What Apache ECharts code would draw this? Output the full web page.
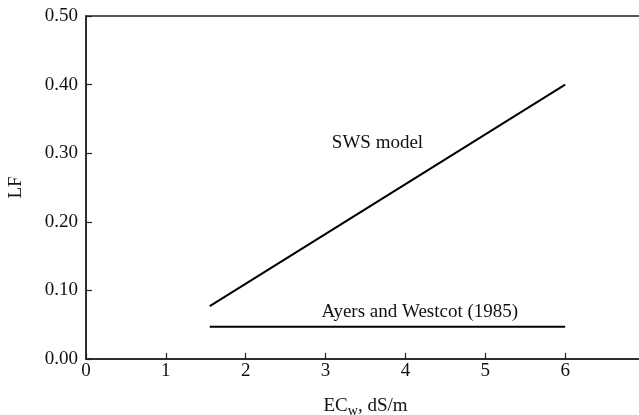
<!DOCTYPE html>
<html><head><meta charset="utf-8">
<script src="https://cdn.jsdelivr.net/npm/echarts@6/dist/echarts.min.js"></script>
<style>html,body{margin:0;padding:0;background:#fff}#c{width:639px;height:415px}</style>
</head><body><div id="c"></div>
<script>
const swsX = [1.55, 6];
const swsY = [0.077, 0.40];
const ayersX = [1.55, 6];
const ayersY = [0.047, 0.047];
const annotations = [
  {name: 'SWS model', x: 3.65, y: 0.315},
  {name: 'Ayers and Westcot (1985)', x: 4.18, y: 0.069}
];

const font = 'Liberation Serif';
const fs = 19;
const chart = echarts.init(document.getElementById('c'));
chart.setOption({
  animation: false,
  grid: {left: 86, top: 16, width: 559, height: 343, show: true, borderColor: '#222', borderWidth: 1.5,
         backgroundColor: 'transparent', outerBoundsMode: 'none', containLabel: false},
  xAxis: {
    type: 'value', min: 0, max: 7, interval: 1,
    axisLine: {lineStyle: {color: '#222', width: 1.5}},
    axisTick: {inside: true, length: 6, lineStyle: {color: '#222', width: 1.2}},
    axisLabel: {color: '#111', fontFamily: font, fontSize: fs, margin: 3},
    splitLine: {show: false},
    name: '{a|EC}{s|w}{a|, dS/m}', nameLocation: 'middle', nameGap: 36,
    nameTextStyle: {rich: {a: {fontFamily: font, fontSize: fs, color: '#111'}, s: {fontFamily: font, fontSize: 14, color: '#111', padding: [9, 0, 0, 0]}}}
  },
  yAxis: {
    type: 'value', min: 0, max: 0.5, interval: 0.1,
    axisLine: {lineStyle: {color: '#222', width: 1.5}},
    axisTick: {inside: true, length: 6, lineStyle: {color: '#222', width: 1.2}},
    axisLabel: {color: '#111', fontFamily: font, fontSize: fs, margin: 8, formatter: v => v.toFixed(2)},
    splitLine: {show: false},
    name: 'LF', nameLocation: 'middle', nameGap: 60, nameRotate: 90,
    nameTextStyle: {fontFamily: font, fontSize: fs, color: '#111'}
  },
  series: [
    {type: 'line', data: swsX.map((x, i) => [x, swsY[i]]), symbol: 'none', lineStyle: {color: '#000', width: 2}},
    {type: 'line', data: ayersX.map((x, i) => [x, ayersY[i]]), symbol: 'none', lineStyle: {color: '#000', width: 2}},
    {type: 'scatter', symbolSize: 0, itemStyle: {color: 'rgba(0,0,0,0)', opacity: 1},
     data: annotations.map(a => ({name: a.name, value: [a.x, a.y]})),
     label: {show: true, position: 'inside', formatter: p => p.name, fontFamily: font, fontSize: fs, color: '#111', textBorderWidth: 0}}
  ]
});
</script></body></html>
